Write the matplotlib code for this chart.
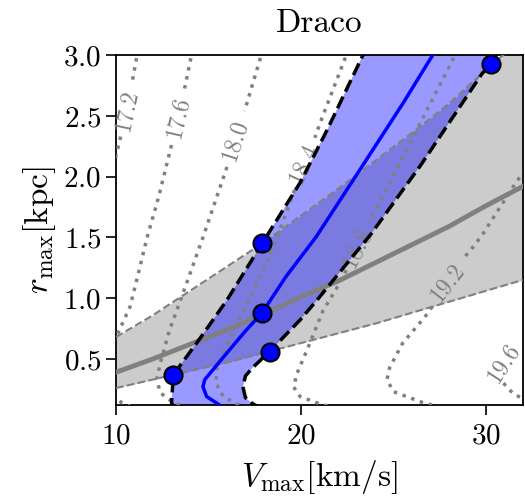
import numpy as np
import matplotlib
matplotlib.use("Agg")
import matplotlib.pyplot as plt

plt.rcParams['font.family'] = 'serif'
plt.rcParams['font.serif'] = ['cmr10', 'DejaVu Serif']
plt.rcParams['mathtext.fontset'] = 'cm'
plt.rcParams['axes.formatter.use_mathtext'] = True
plt.rcParams['axes.unicode_minus'] = False

nan = np.nan

# gray band (prior / relation), sampled at vmax_grid
vmax_grid = [10, 12, 14, 16, 18, 20, 22, 24, 26, 28, 30, 32]
gray_mid = [0.39, 0.50, 0.62, 0.74, 0.87, 1.01, 1.14, 1.29, 1.44, 1.59, 1.76, 1.92]
gray_hi = [0.68, 0.86, 1.06, 1.26, 1.46, 1.68, 1.90, 2.13, 2.36, 2.60, 2.88, 3.14]
gray_lo = [0.26, 0.33, 0.40, 0.47, 0.55, 0.63, 0.71, 0.79, 0.88, 0.97, 1.06, 1.15]

# blue band (fit), edges given as (vmax, rmax) traces
blue_left_x = [13.2, 13.0, 13.05, 13.1, 14.5, 16.0, 17.9, 19.95, 21.4, 23.35, 23.5]
blue_left_y = [0.08, 0.14, 0.25, 0.37, 0.66, 0.985, 1.45, 1.95, 2.38, 3.0, 3.05]
blue_right_x = [17.9, 17.4, 17.0, 16.86, 17.0, 17.4, 18.3, 19.95, 20.9, 23.8, 26.5, 29.8, 30.3, 30.7]
blue_right_y = [0.09, 0.13, 0.18, 0.27, 0.36, 0.43, 0.56, 0.82, 0.99, 1.53, 2.1, 2.85, 2.93, 3.05]
blue_mid_x = [16.0, 15.6, 14.9, 14.7, 14.8, 15.1, 16.0, 17.0, 17.9, 19.2, 20.8, 23.2, 25.5, 27.2]
blue_mid_y = [0.09, 0.12, 0.19, 0.27, 0.33, 0.385, 0.55, 0.73, 0.88, 1.18, 1.5, 2.06, 2.6, 3.02]

pts_x = [13.1, 17.9, 17.9, 18.3, 30.3]
pts_y = [0.37, 1.45, 0.88, 0.56, 2.93]

# J-factor contours (dotted), nan = gap for label
contours = {
    '17.2': ([11.2, 10.85, nan, 10.25, 10.0, 9.7],
             [3.05, 2.76, nan, 2.33, 2.17, 1.97]),
    '17.6': ([14.15, 13.7, nan, 13.0, 12.3, 11.68, 11.2, 10.76, 10.1, 9.8, nan, 9.8, 10.3, 10.9],
             [3.05, 2.72, nan, 2.26, 1.83, 1.50, 1.20, 0.93, 0.71, 0.62, nan, 0.2, 0.14, 0.1]),
    '18.0': ([17.95, 16.95, nan, 16.0, 15.8, 14.7, 13.62, 12.9, 12.4, 12.2, 12.4, 13.1, 13.8],
             [3.05, 2.54, nan, 2.08, 1.99, 1.5, 1.04, 0.74, 0.47, 0.33, 0.22, 0.14, 0.1]),
    '18.4': ([22.4, 21.03, 20.75, nan, 19.65, 19.2, 18.16, 17.0, 16.16, 15.46, 15.4, 15.8, 16.5, 17.2],
             [2.98, 2.44, 2.32, nan, 1.89, 1.70, 1.29, 0.93, 0.66, 0.43, 0.30, 0.19, 0.13, 0.1]),
    '18.8': ([28.4, 28.2, 25.8, 23.65, nan, 22.45, 22.1, 21.2, 20.4, 19.8, 19.6, 19.95, 21.2, 22.0],
             [3.05, 2.96, 2.25, 1.62, nan, 1.23, 1.125, 0.9, 0.6, 0.385, 0.27, 0.19, 0.12, 0.1]),
    '19.2': ([32.3, 31.7, 29.8, 29.3, 28.8, nan, 27.1, 26.7, 25.5, 24.8, 24.65, 25.0, 26.6, 27.6],
             [2.07, 1.97, 1.52, 1.42, 1.33, nan, 0.93, 0.845, 0.63, 0.43, 0.33, 0.23, 0.14, 0.1]),
    '19.6': ([30.95, 31.5, 32.2],
             [0.3, 0.21, 0.16]),
}
# label positions and rotation
clabels = {
    '17.2': (10.6, 2.55, 78),
    '17.6': (13.35, 2.49, 77),
    '18.0': (16.43, 2.30, 72),
    '18.4': (20.15, 2.11, 65),
    '18.8': (23.05, 1.42, 63),
    '19.2': (27.95, 1.13, 52),
    '19.6': (30.95, 0.47, 57),
}

fig = plt.figure(figsize=(5.25, 4.97), dpi=100)
ax = fig.add_axes([0.221, 0.185, 0.775, 0.704])

ax.fill_between(vmax_grid, gray_lo, gray_hi, color='gray', alpha=0.4, lw=0, zorder=1)
poly_x = blue_left_x + blue_right_x[::-1]
poly_y = blue_left_y + blue_right_y[::-1]
ax.fill(poly_x, poly_y, color='blue', alpha=0.4, lw=0, zorder=2)

for key, (cx, cy) in contours.items():
    ax.plot(cx, cy, ls=':', color='gray', lw=2.5, zorder=3)
    lx, ly, rot = clabels[key]
    ax.text(lx, ly, key, color='gray', fontsize=17, rotation=rot,
            ha='center', va='center', rotation_mode='anchor', zorder=3)

ax.plot(vmax_grid, gray_hi, ls='--', color='gray', lw=1.5, zorder=3)
ax.plot(vmax_grid, gray_lo, ls='--', color='gray', lw=1.5, zorder=3)
ax.plot(vmax_grid, gray_mid, color='gray', lw=3.5, zorder=4)

ax.plot(blue_mid_x, blue_mid_y, color='blue', lw=2.5, zorder=5)
ax.plot(blue_left_x, blue_left_y, ls='--', color='k', lw=2.5, zorder=6)
ax.plot(blue_right_x, blue_right_y, ls='--', color='k', lw=2.5, zorder=6)

ax.plot(pts_x, pts_y, 'o', ms=13, mfc='blue', mec='k', mew=1.5, zorder=7)

ax.set_xlim(10, 32)
ax.set_ylim(0.12, 3.0)
ax.set_xticks([10, 20, 30])
ax.set_yticks([0.5, 1.0, 1.5, 2.0, 2.5, 3.0])
ax.tick_params(direction='out', length=7, width=1.2, labelsize=21)
ax.tick_params(axis='x', pad=6)
for s in ax.spines.values():
    s.set_linewidth(1.3)

ax.set_xlabel(r'$V_{\rm max}[{\rm km/s}]$', fontsize=24, labelpad=6)
ax.set_ylabel(r'$r_{\rm max}[{\rm kpc}]$', fontsize=24, labelpad=4)
ax.set_title('Draco', fontsize=24, pad=17)

fig.savefig('out.png', dpi=100)
